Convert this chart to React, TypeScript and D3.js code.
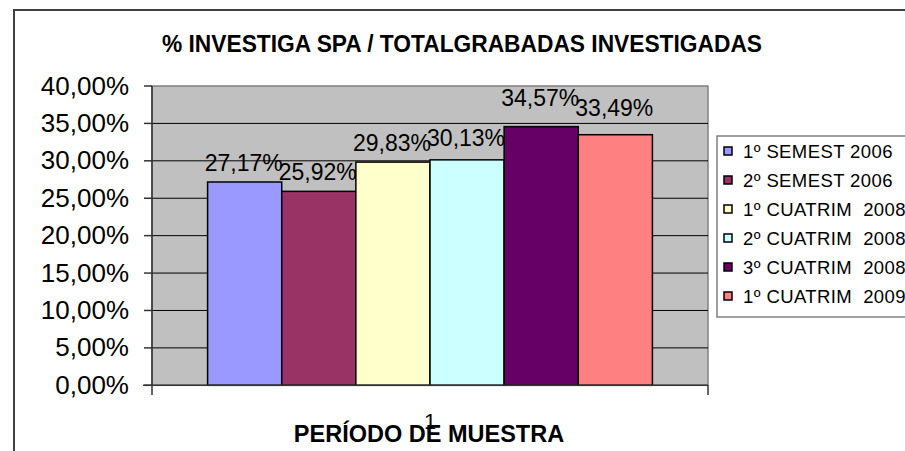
import React from "react";
import * as d3 from "d3";

const seriesNames = [
  "1º SEMEST 2006",
  "2º SEMEST 2006",
  "1º CUATRIM  2008",
  "2º CUATRIM  2008",
  "3º CUATRIM  2008",
  "1º CUATRIM  2009",
];
const seriesValues = [27.17, 25.92, 29.83, 30.13, 34.57, 33.49];
const seriesColors = ["#9999FF", "#993366", "#FFFFCC", "#CCFFFF", "#660066", "#FF8080"];
const yTicks = [0, 5, 10, 15, 20, 25, 30, 35, 40];
const categoryLabel = "1";
const titleText = "% INVESTIGA SPA / TOTALGRABADAS INVESTIGADAS";
const xAxisTitle = "PERÍODO DE MUESTRA";
const labelGaps = [11, 11, 11, 14, 21, 19];

const W = 905;
const H = 451;
const plot = { left: 152, right: 708, top: 86, bottom: 385.3 };
const FONT = "'Liberation Sans', Arial, Helvetica, sans-serif";

const fmt = (v: number) => v.toFixed(2).replace(".", ",") + "%";

export default function App() {
  const y = d3.scaleLinear().domain([0, 40]).range([plot.bottom, plot.top]);
  const x = d3
    .scaleBand<string>()
    .domain(seriesNames)
    .range([plot.left, plot.right])
    .paddingInner(0)
    .paddingOuter(0.75);
  const bw = x.bandwidth();
  const center = (plot.left + plot.right) / 2;

  return (
    <svg
      width={W}
      height={H}
      style={{ position: "absolute", left: 0, top: 0, background: "#fff" }}
      fontFamily={FONT}
    >
      {/* outer chart border */}
      <path d={`M14,${H + 2} L14,10 L${W + 2},10`} fill="none" stroke="#404040" strokeWidth={2} />

      {/* title */}
      <text
        x={462}
        y={52}
        textAnchor="middle"
        fontSize={24}
        fontWeight="bold"
        textLength={600}
        lengthAdjust="spacingAndGlyphs"
        fill="#000"
      >
        {titleText}
      </text>

      {/* plot area */}
      <rect
        x={plot.left}
        y={plot.top}
        width={plot.right - plot.left}
        height={plot.bottom - plot.top}
        fill="#C0C0C0"
        stroke="#808080"
        strokeWidth={1.5}
      />
      {yTicks
        .filter((t) => t > 0 && t < 40)
        .map((t) => (
          <line
            key={"g" + t}
            x1={plot.left}
            x2={plot.right}
            y1={y(t)}
            y2={y(t)}
            stroke="#000"
            strokeWidth={1}
          />
        ))}

      {/* bars */}
      {seriesNames.map((s, i) => (
        <rect
          key={s}
          x={x(s)!}
          y={y(seriesValues[i])}
          width={bw}
          height={y(0) - y(seriesValues[i])}
          fill={seriesColors[i]}
          stroke="#000"
          strokeWidth={1.5}
        />
      ))}

      {/* axes */}
      <line x1={plot.left} x2={plot.left} y1={plot.top} y2={395} stroke="#333" strokeWidth={1.5} />
      <line x1={143} x2={plot.right} y1={y(0)} y2={y(0)} stroke="#333" strokeWidth={1.5} />
      <line x1={plot.right} x2={plot.right} y1={y(0)} y2={395} stroke="#333" strokeWidth={1.5} />
      {yTicks.map((t) => (
        <g key={"t" + t}>
          <line x1={144} x2={plot.left} y1={y(t)} y2={y(t)} stroke="#333" strokeWidth={1.5} />
          <text x={129} y={y(t) + 8.5} textAnchor="end" fontSize={26} fill="#000">
            {fmt(t)}
          </text>
        </g>
      ))}

      {/* data labels */}
      {seriesNames.map((s, i) => (
        <text
          key={"l" + s}
          x={x(s)! + bw / 2 - 1}
          y={y(seriesValues[i]) - labelGaps[i]}
          textAnchor="middle"
          fontSize={23}
          fill="#000"
        >
          {fmt(seriesValues[i])}
        </text>
      ))}

      {/* axis title and category label */}
      <text x={429} y={442} textAnchor="middle" fontSize={23.5} fontWeight="bold" fill="#000">
        {xAxisTitle}
      </text>
      <text x={center} y={429} textAnchor="middle" fontSize={22} fill="#000">
        {categoryLabel}
      </text>

      {/* legend */}
      <rect x={717} y={136} width={W} height={181} fill="#fff" stroke="#808080" strokeWidth={1.5} />
      {seriesNames.map((s, i) => {
        const cy = 151 + i * 29;
        return (
          <g key={"lg" + s}>
            <rect x={724} y={cy - 4} width={8} height={8} fill={seriesColors[i]} stroke="#000" strokeWidth={1.5} />
            <text
              x={743}
              y={cy + 6.5}
              fontSize={18.5}
              fill="#000"
              letterSpacing={0.4}
              style={{ whiteSpace: "pre" }}
            >
              {s}
            </text>
          </g>
        );
      })}
    </svg>
  );
}
